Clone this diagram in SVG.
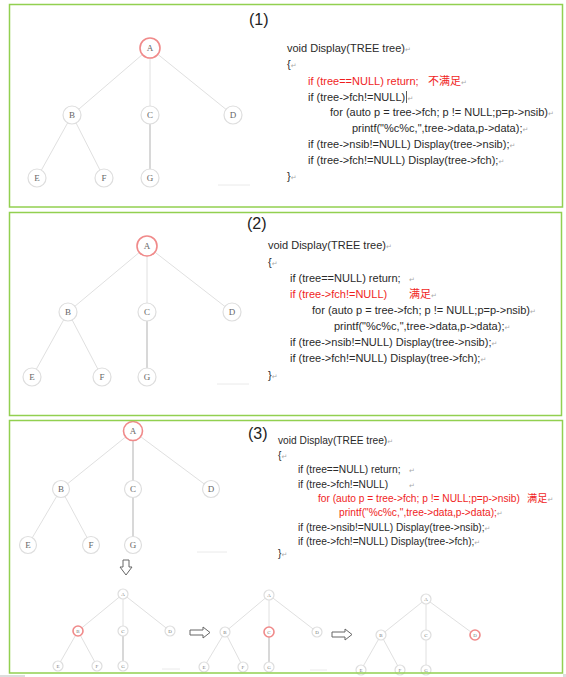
<svg xmlns="http://www.w3.org/2000/svg" width="566" height="677" viewBox="0 0 566 677">
<style>
.panel{fill:none;stroke:#92D050;stroke-width:1.5}
.edge{stroke:#e0e0e0;stroke-width:1}
.edge2{stroke:#cfcfcf;stroke-width:1.6}
.nd{fill:#fff;stroke:#dedede;stroke-width:1.2}
.ndr{fill:#fff;stroke:#f08a8a;stroke-width:1.6}
.nl{font-family:"Liberation Serif",serif;font-size:9px;fill:#666;text-anchor:middle}
.nls{font-family:"Liberation Serif",serif;font-size:5px;fill:#777;text-anchor:middle}
.code{font-family:"Liberation Sans",sans-serif;font-size:11px;fill:#2a2a2a}
.code3{font-family:"Liberation Sans",sans-serif;font-size:10.2px;fill:#2a2a2a}
.red{fill:#f01e1e}
.cjk{font-family:"Noto Sans CJK SC",sans-serif}
.ret{font-family:"DejaVu Sans",sans-serif;font-size:7px;fill:#aaa}
.num{font-family:"Liberation Sans",sans-serif;font-size:16px;fill:#222}
.faint{stroke:#eaeaea;stroke-width:1}
.barrow{fill:#fff;stroke:#666;stroke-width:1}
</style>
<rect width="566" height="677" fill="#fff"/>

<!-- connectors -->
<g id="connectors">
  <!-- tree 1 -->
  <line class="edge" x1="150" y1="48" x2="72" y2="115"/>
  <line class="edge" x1="150" y1="48" x2="150" y2="115"/>
  <line class="edge" x1="150" y1="48" x2="233" y2="115"/>
  <line class="edge" x1="72" y1="115" x2="37" y2="178"/>
  <line class="edge" x1="72" y1="115" x2="104" y2="178"/>
  <line class="edge2" x1="150" y1="115" x2="150" y2="178"/>
  <!-- tree 2 -->
  <line class="edge" x1="147" y1="246" x2="68" y2="312"/>
  <line class="edge" x1="147" y1="246" x2="147" y2="312"/>
  <line class="edge" x1="147" y1="246" x2="232" y2="312"/>
  <line class="edge" x1="68" y1="312" x2="32" y2="377"/>
  <line class="edge" x1="68" y1="312" x2="102" y2="377"/>
  <line class="edge2" x1="147" y1="312" x2="147" y2="377"/>
  <!-- tree 3 -->
  <line class="edge" x1="133" y1="431" x2="61" y2="489"/>
  <line class="edge2" x1="133" y1="431" x2="133" y2="489"/>
  <line class="edge" x1="133" y1="431" x2="211" y2="489"/>
  <line class="edge" x1="61" y1="489" x2="28" y2="545"/>
  <line class="edge" x1="61" y1="489" x2="91" y2="545"/>
  <line class="edge2" x1="133" y1="489" x2="133" y2="545"/>
  <!-- tree 4 -->
  <line class="edge" x1="123" y1="594" x2="78" y2="631"/>
  <line class="edge" x1="123" y1="594" x2="123" y2="631"/>
  <line class="edge" x1="123" y1="594" x2="170" y2="631"/>
  <line class="edge" x1="78" y1="631" x2="58" y2="666"/>
  <line class="edge" x1="78" y1="631" x2="97" y2="666"/>
  <line class="edge2" x1="123" y1="631" x2="123" y2="666"/>
  <!-- tree 5 -->
  <line class="edge" x1="269" y1="595" x2="225" y2="632"/>
  <line class="edge" x1="269" y1="595" x2="269" y2="632"/>
  <line class="edge" x1="269" y1="595" x2="317" y2="632"/>
  <line class="edge" x1="225" y1="632" x2="204" y2="667"/>
  <line class="edge" x1="225" y1="632" x2="243" y2="667"/>
  <line class="edge2" x1="269" y1="632" x2="269" y2="667"/>
  <!-- tree 6 -->
  <line class="edge" x1="426" y1="599" x2="381" y2="635"/>
  <line class="edge" x1="426" y1="599" x2="426" y2="635"/>
  <line class="edge" x1="426" y1="599" x2="475" y2="635"/>
  <line class="edge" x1="381" y1="635" x2="361" y2="670"/>
  <line class="edge" x1="381" y1="635" x2="400" y2="670"/>
  <line class="edge" x1="426" y1="635" x2="426" y2="670"/>
  <!-- block arrows -->
  <path class="barrow" d="M123,560 H129 V567 H132 L126,575 L120,567 H123 Z"/>
  <path class="barrow" d="M190,630 H203 V627 L210,632.5 L203,638 V635 H190 Z"/>
  <path class="barrow" d="M332,632 H345 V629 L352,634.5 L345,640 V637 H332 Z"/>
</g>

<!-- faint marks -->
<g id="marks">
  <line class="faint" x1="218" y1="185" x2="250" y2="185"/>
  <line class="faint" x1="217" y1="384" x2="249" y2="384"/>
  <line class="faint" x1="197" y1="552" x2="227" y2="552"/>
  <line class="faint" x1="162" y1="669" x2="180" y2="669"/>
  <line class="faint" x1="310" y1="670" x2="327" y2="670"/>
</g>

<!-- tree 1 nodes -->
<g id="t1-A"><circle class="ndr" cx="150" cy="48" r="10"/><text class="nl" x="150" y="51">A</text></g>
<g id="t1-B"><circle class="nd" cx="72" cy="115" r="9"/><text class="nl" x="72" y="118">B</text></g>
<g id="t1-C"><circle class="nd" cx="150" cy="115" r="9"/><text class="nl" x="150" y="118">C</text></g>
<g id="t1-D"><circle class="nd" cx="233" cy="115" r="9"/><text class="nl" x="233" y="118">D</text></g>
<g id="t1-E"><circle class="nd" cx="37" cy="178" r="9"/><text class="nl" x="37" y="181">E</text></g>
<g id="t1-F"><circle class="nd" cx="104" cy="178" r="9"/><text class="nl" x="104" y="181">F</text></g>
<g id="t1-G"><circle class="nd" cx="150" cy="178" r="9"/><text class="nl" x="150" y="181">G</text></g>

<!-- tree 2 nodes -->
<g id="t2-A"><circle class="ndr" cx="147" cy="246" r="10"/><text class="nl" x="147" y="249">A</text></g>
<g id="t2-B"><circle class="nd" cx="68" cy="312" r="9"/><text class="nl" x="68" y="315">B</text></g>
<g id="t2-C"><circle class="nd" cx="147" cy="312" r="9"/><text class="nl" x="147" y="315">C</text></g>
<g id="t2-D"><circle class="nd" cx="232" cy="312" r="9"/><text class="nl" x="232" y="315">D</text></g>
<g id="t2-E"><circle class="nd" cx="32" cy="377" r="9"/><text class="nl" x="32" y="380">E</text></g>
<g id="t2-F"><circle class="nd" cx="102" cy="377" r="9"/><text class="nl" x="102" y="380">F</text></g>
<g id="t2-G"><circle class="nd" cx="147" cy="377" r="9"/><text class="nl" x="147" y="380">G</text></g>

<!-- tree 3 nodes -->
<g id="t3-A"><circle class="ndr" cx="133" cy="431" r="9.5"/><text class="nl" x="133" y="434">A</text></g>
<g id="t3-B"><circle class="nd" cx="61" cy="489" r="8.5"/><text class="nl" x="61" y="492">B</text></g>
<g id="t3-C"><circle class="nd" cx="133" cy="489" r="8.5"/><text class="nl" x="133" y="492">C</text></g>
<g id="t3-D"><circle class="nd" cx="211" cy="489" r="8.5"/><text class="nl" x="211" y="492">D</text></g>
<g id="t3-E"><circle class="nd" cx="28" cy="545" r="8.5"/><text class="nl" x="28" y="548">E</text></g>
<g id="t3-F"><circle class="nd" cx="91" cy="545" r="8.5"/><text class="nl" x="91" y="548">F</text></g>
<g id="t3-G"><circle class="nd" cx="133" cy="545" r="8.5"/><text class="nl" x="133" y="548">G</text></g>

<!-- tree 4 nodes -->
<g id="t4-A"><circle class="nd" cx="123" cy="594" r="5"/><text class="nls" x="123" y="595.8">A</text></g>
<g id="t4-B"><circle class="ndr" cx="78" cy="631" r="5"/><text class="nls" x="78" y="632.8">B</text></g>
<g id="t4-C"><circle class="nd" cx="123" cy="631" r="5"/><text class="nls" x="123" y="632.8">C</text></g>
<g id="t4-D"><circle class="nd" cx="170" cy="631" r="5"/><text class="nls" x="170" y="632.8">D</text></g>
<g id="t4-E"><circle class="nd" cx="58" cy="666" r="5"/><text class="nls" x="58" y="667.8">E</text></g>
<g id="t4-F"><circle class="nd" cx="97" cy="666" r="5"/><text class="nls" x="97" y="667.8">F</text></g>
<g id="t4-G"><circle class="nd" cx="123" cy="666" r="5"/><text class="nls" x="123" y="667.8">G</text></g>

<!-- tree 5 nodes -->
<g id="t5-A"><circle class="nd" cx="269" cy="595" r="5"/><text class="nls" x="269" y="596.8">A</text></g>
<g id="t5-B"><circle class="nd" cx="225" cy="632" r="5"/><text class="nls" x="225" y="633.8">B</text></g>
<g id="t5-C"><circle class="ndr" cx="269" cy="632" r="5"/><text class="nls" x="269" y="633.8">C</text></g>
<g id="t5-D"><circle class="nd" cx="317" cy="632" r="5"/><text class="nls" x="317" y="633.8">D</text></g>
<g id="t5-E"><circle class="nd" cx="204" cy="667" r="5"/><text class="nls" x="204" y="668.8">E</text></g>
<g id="t5-F"><circle class="nd" cx="243" cy="667" r="5"/><text class="nls" x="243" y="668.8">F</text></g>
<g id="t5-G"><circle class="nd" cx="269" cy="667" r="5"/><text class="nls" x="269" y="668.8">G</text></g>

<!-- tree 6 nodes -->
<g id="t6-A"><circle class="nd" cx="426" cy="599" r="5"/><text class="nls" x="426" y="600.8">A</text></g>
<g id="t6-B"><circle class="nd" cx="381" cy="635" r="5"/><text class="nls" x="381" y="636.8">B</text></g>
<g id="t6-C"><circle class="nd" cx="426" cy="635" r="5"/><text class="nls" x="426" y="636.8">C</text></g>
<g id="t6-D"><circle class="ndr" cx="475" cy="635" r="5"/><text class="nls" x="475" y="636.8">D</text></g>
<g id="t6-E"><circle class="nd" cx="361" cy="670" r="5"/><text class="nls" x="361" y="671.8">E</text></g>
<g id="t6-F"><circle class="nd" cx="400" cy="670" r="5"/><text class="nls" x="400" y="671.8">F</text></g>
<g id="t6-G"><circle class="nd" cx="426" cy="670" r="5"/><text class="nls" x="426" y="671.8">G</text></g>

<!-- panel numbers -->
<text class="num" x="249" y="25">(1)</text>
<text class="num" x="247" y="229">(2)</text>
<text class="num" x="248" y="439">(3)</text>

<!-- code panel 1 -->
<g id="code1" class="code">
  <text x="287" y="52">void Display(TREE tree)<tspan class="ret">↵</tspan></text>
  <text x="287" y="68">{<tspan class="ret">↵</tspan></text>
  <text x="308" y="84.7" class="red">if (tree==NULL) return;</text>
  <text x="428" y="84.7"><tspan class="red cjk">不满足</tspan><tspan class="ret">↵</tspan></text>
  <text x="308" y="100.7">if (tree-&gt;fch!=NULL)</text>
  <line x1="406.5" y1="91" x2="406.5" y2="103" stroke="#333" stroke-width="0.8"/>
  <text x="407.5" y="100.7" class="ret">↵</text>
  <text x="330" y="116">for (auto p = tree-&gt;fch; p != NULL;p=p-&gt;nsib)<tspan class="ret">↵</tspan></text>
  <text x="352" y="132">printf("%c%c,",tree-&gt;data,p-&gt;data);<tspan class="ret">↵</tspan></text>
  <text x="308" y="148">if (tree-&gt;nsib!=NULL) Display(tree-&gt;nsib);<tspan class="ret">↵</tspan></text>
  <text x="308" y="164">if (tree-&gt;fch!=NULL) Display(tree-&gt;fch);<tspan class="ret">↵</tspan></text>
  <text x="287" y="180">}<tspan class="ret">↵</tspan></text>
</g>

<!-- code panel 2 -->
<g id="code2" class="code">
  <text x="268" y="249">void Display(TREE tree)<tspan class="ret">↵</tspan></text>
  <text x="268" y="266">{<tspan class="ret">↵</tspan></text>
  <text x="290" y="282">if (tree==NULL) return;</text>
  <text x="409" y="282" class="ret">↵</text>
  <text x="290" y="298" class="red">if (tree-&gt;fch!=NULL)</text>
  <text x="409" y="298"><tspan class="red cjk">满足</tspan><tspan class="ret">↵</tspan></text>
  <text x="312" y="314">for (auto p = tree-&gt;fch; p != NULL;p=p-&gt;nsib)<tspan class="ret">↵</tspan></text>
  <text x="334" y="330">printf("%c%c,",tree-&gt;data,p-&gt;data);<tspan class="ret">↵</tspan></text>
  <text x="290" y="346">if (tree-&gt;nsib!=NULL) Display(tree-&gt;nsib);<tspan class="ret">↵</tspan></text>
  <text x="290" y="362">if (tree-&gt;fch!=NULL) Display(tree-&gt;fch);<tspan class="ret">↵</tspan></text>
  <text x="268" y="379">}<tspan class="ret">↵</tspan></text>
</g>

<!-- code panel 3 -->
<g id="code3" class="code3">
  <text x="278" y="444">void Display(TREE tree)<tspan class="ret">↵</tspan></text>
  <text x="278" y="459">{<tspan class="ret">↵</tspan></text>
  <text x="298" y="473">if (tree==NULL) return;</text>
  <text x="409" y="473" class="ret">↵</text>
  <text x="298" y="488">if (tree-&gt;fch!=NULL)</text>
  <text x="409" y="488" class="ret">↵</text>
  <text x="318" y="502" class="red">for (auto p = tree-&gt;fch; p != NULL;p=p-&gt;nsib)</text>
  <text x="527" y="502"><tspan class="red cjk">满足</tspan><tspan class="ret">↵</tspan></text>
  <text x="339" y="516"><tspan class="red">printf("%c%c,",tree-&gt;data,p-&gt;data);</tspan><tspan class="ret">↵</tspan></text>
  <text x="298" y="531">if (tree-&gt;nsib!=NULL) Display(tree-&gt;nsib);<tspan class="ret">↵</tspan></text>
  <text x="298" y="545">if (tree-&gt;fch!=NULL) Display(tree-&gt;fch);<tspan class="ret">↵</tspan></text>
  <text x="278" y="557">}<tspan class="ret">↵</tspan></text>
</g>

<!-- panels -->
<g id="panels">
  <rect class="panel" x="9.5" y="4.5" width="553" height="202.5"/>
  <rect class="panel" x="9.5" y="212.5" width="552" height="203"/>
  <rect class="panel" x="9.5" y="420.5" width="553" height="252.5"/>
</g>
<rect x="0" y="675" width="25" height="2" fill="#ddd"/>
<rect x="563" y="674" width="3" height="3" fill="#ddd"/>
</svg>
